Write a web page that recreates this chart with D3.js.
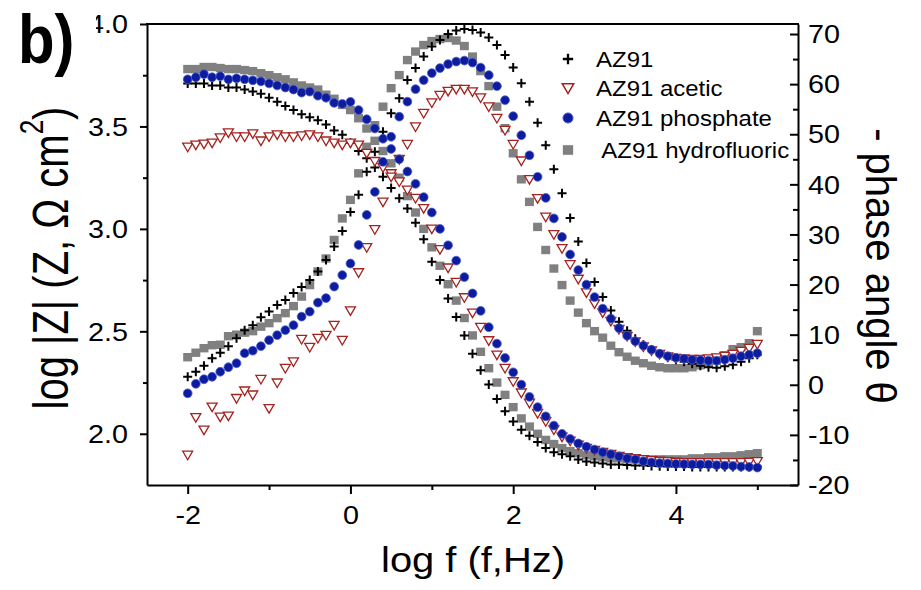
<!DOCTYPE html>
<html>
<head>
<meta charset="utf-8">
<script src="https://cdn.jsdelivr.net/npm/d3@7"></script>
<style>
  body { margin: 0; background: #fff; }
  svg { display: block; font-family: "Liberation Sans", Arial, sans-serif; }
</style>
</head>
<body>
<svg id="chart" width="921" height="590"></svg>
<script>
// ============= Data =============
// log frequency (10 points per decade)
const logF = [
  -2.0,-1.9,-1.8,-1.7,-1.6,-1.5,-1.4,-1.3,-1.2,-1.1,
  -1.0,-0.9,-0.8,-0.7,-0.6,-0.5,-0.4,-0.3,-0.2,-0.1,
   0.0, 0.1, 0.2, 0.3, 0.4, 0.5, 0.6, 0.7, 0.8, 0.9,
   1.0, 1.1, 1.2, 1.3, 1.4, 1.5, 1.6, 1.7, 1.8, 1.9,
   2.0, 2.1, 2.2, 2.3, 2.4, 2.5, 2.6, 2.7, 2.8, 2.9,
   3.0, 3.1, 3.2, 3.3, 3.4, 3.5, 3.6, 3.7, 3.8, 3.9,
   4.0, 4.1, 4.2, 4.3, 4.4, 4.5, 4.6, 4.7, 4.8, 4.9,
   5.0
];

// log |Z| values
const az91Z = [
  3.71,3.71,3.71,3.70,3.70,3.69,3.69,3.68,3.67,3.66,
  3.64,3.62,3.60,3.58,3.56,3.545,3.53,3.51,3.48,3.46,
  3.42,3.38,3.345,3.30,3.255,3.20,3.15,3.10,3.03,2.95,
  2.84,2.75,2.66,2.57,2.48,2.39,2.31,2.24,2.17,2.11,
  2.06,2.02,1.99,1.96,1.93,1.91,1.90,1.89,1.875,1.865,
  1.86,1.855,1.85,1.85,1.848,1.845,1.845,1.843,1.842,1.84,
  1.84,1.84,1.838,1.838,1.838,1.838,1.838,1.838,1.838,1.838,
  1.84
];
const aceticZ = [
  3.40,3.41,3.415,3.42,3.445,3.47,3.45,3.45,3.465,3.43,
  3.45,3.46,3.45,3.45,3.455,3.46,3.45,3.43,3.42,3.41,
  3.42,3.41,3.37,3.33,3.30,3.27,3.23,3.19,3.15,3.10,
  3.00,2.90,2.81,2.74,2.665,2.59,2.52,2.455,2.385,2.32,
  2.255,2.20,2.15,2.10,2.06,2.02,1.985,1.965,1.945,1.93,
  1.92,1.91,1.90,1.89,1.885,1.88,1.875,1.87,1.867,1.865,
  1.862,1.86,1.86,1.86,1.86,1.86,1.86,1.86,1.86,1.862,
  1.865
];
const phosphateZ = [
  3.73,3.74,3.755,3.74,3.745,3.73,3.735,3.73,3.725,3.72,
  3.71,3.70,3.69,3.68,3.665,3.67,3.65,3.64,3.615,3.61,
  3.62,3.58,3.535,3.49,3.44,3.39,3.34,3.28,3.22,3.155,
  3.08,3.00,2.92,2.845,2.765,2.685,2.60,2.52,2.44,2.37,
  2.30,2.24,2.18,2.13,2.085,2.04,2.00,1.975,1.953,1.937,
  1.923,1.91,1.90,1.89,1.88,1.875,1.866,1.86,1.857,1.855,
  1.853,1.852,1.851,1.85,1.85,1.847,1.845,1.843,1.84,1.838,
  1.835
];
const hfZ = [
  3.78,3.78,3.79,3.79,3.785,3.78,3.78,3.775,3.77,3.76,
  3.75,3.74,3.73,3.715,3.70,3.69,3.68,3.655,3.635,3.605,
  3.58,3.54,3.49,3.43,3.38,3.32,3.25,3.16,3.08,3.00,
  2.91,2.82,2.73,2.65,2.565,2.48,2.40,2.32,2.25,2.19,
  2.13,2.075,2.035,2.00,1.97,1.95,1.93,1.915,1.905,1.895,
  1.89,1.885,1.88,1.88,1.875,1.875,1.875,1.875,1.875,1.875,
  1.875,1.875,1.88,1.88,1.885,1.885,1.89,1.89,1.895,1.90,
  1.905
];

// - phase angle values (deg)
const az91Phase = [
  1.6,2.6,3.8,5.3,6.4,7.7,9.3,10.9,11.9,13.5,
  14.6,15.9,16.9,18.3,19.5,20.9,22.6,24.9,27.6,30.7,
  34.5,37.9,42.5,46.5,50.5,54.2,57.2,60.8,63.2,65.5,
  67.5,68.8,70.0,70.7,71.0,70.8,70.3,69.3,67.8,65.8,
  63.3,60.2,56.5,52.3,47.8,43.0,38.2,33.3,28.6,24.3,
  20.5,17.5,14.8,12.6,10.8,9.2,8.0,7.0,6.2,5.5,
  5.0,4.6,4.2,3.8,3.5,3.4,3.7,4.0,4.6,5.3,
  6.0
];
const aceticPhase = [
  -14.0,-6.5,-9.0,-4.4,-6.4,-6.2,-2.7,-1.2,-2.0,1.1,
  -4.7,0.4,3.3,4.6,9.1,7.5,9.3,9.9,11.9,8.9,
  14.8,22.4,27.4,31.0,36.5,41.5,45.0,48.0,51.5,54.2,
  56.3,57.8,58.6,59.0,59.0,58.5,57.3,55.5,53.2,50.8,
  48.0,44.7,41.0,37.2,33.5,30.0,27.2,24.0,21.1,18.4,
  16.2,14.4,12.7,11.1,9.7,8.6,7.6,6.8,6.1,5.6,
  5.3,5.2,5.1,5.1,5.2,5.4,5.7,6.1,6.7,7.3,
  8.1
];
const phosphatePhase = [
  -1.7,0.2,1.1,1.6,2.6,3.5,4.3,6.3,6.8,7.7,
  8.9,9.9,10.9,11.9,13.6,14.6,16.4,17.3,19.6,21.9,
  24.2,27.9,33.9,38.5,44.5,49.5,53.5,56.5,59.0,60.8,
  62.2,63.2,64.0,64.5,64.7,64.3,63.3,61.8,59.6,56.8,
  53.6,49.8,45.8,41.5,37.3,33.2,29.5,26.0,22.9,20.0,
  17.5,15.2,13.2,11.3,9.8,8.7,7.8,7.0,6.2,5.7,
  5.4,5.2,5.0,4.9,4.8,4.8,5.0,5.3,5.7,6.0,
  6.3
];
const hfPhase = [
  5.5,6.4,7.3,7.9,8.0,9.7,10.0,10.4,10.7,11.6,
  12.3,13.3,14.3,15.7,17.6,19.9,22.6,25.2,28.9,33.2,
  36.9,42.2,47.5,51.8,55.5,59.2,61.8,64.8,66.5,67.8,
  68.6,69.0,69.2,68.7,67.6,65.5,62.6,59.6,55.5,51.2,
  46.2,41.0,36.5,31.5,26.9,23.2,19.9,16.8,14.4,12.3,
  10.7,9.4,7.8,6.5,5.6,4.8,4.3,3.8,3.5,3.3,
  3.3,3.3,3.5,3.9,4.4,4.8,5.9,7.1,7.5,8.3,
  10.7
];

// Axis ticks
const xMajor = [-2, 0, 2, 4];
const xMinor = [-1, 1, 3, 5];
const zMajor = [2.0, 2.5, 3.0, 3.5, 4.0];
const zMinor = [2.25, 2.75, 3.25, 3.75];
const pMajor = [-20, -10, 0, 10, 20, 30, 40, 50, 60, 70];
const pMinor = [-15, -5, 5, 15, 25, 35, 45, 55, 65];

// ============= Setup =============
const svg = d3.select('#chart');
const plotLeft = 147, plotRight = 798, plotTop = 24, plotBottom = 485;
const sx = 1.15; // the original text is a bit wide

const x = d3.scaleLinear().domain([-2.5, 5.5]).range([plotLeft, plotRight]);
const yZ = d3.scaleLinear().domain([1.75, 4.0]).range([plotBottom, plotTop]);
const yP = d3.scaleLinear().domain([-20, 72]).range([plotBottom, plotTop]);

svg.append('rect').attr('width', 921).attr('height', 590).attr('fill', '#fff');

// marker shapes
const shapes = {
  plus: 'M-4.5,0H4.5M0,-4.5V4.5',
  tri: 'M-5,-3.8L5,-3.8L0,4.8Z',
  circle: d3.symbol(d3.symbolCircle, Math.PI * 4.4 * 4.4)(),
  square: 'M-4.5,-4.2H4.5V4.2H-4.5Z'
};
function styleMarker(sel, shape){
  if(shape === 'plus') sel.attr('fill', 'none').attr('stroke', '#000').attr('stroke-width', 2);
  else if(shape === 'tri') sel.attr('fill', '#fff').attr('stroke', '#a3231f').attr('stroke-width', 1.3);
  else if(shape === 'circle') sel.attr('fill', '#0d1c9f').attr('stroke', '#4d5fcf').attr('stroke-width', 0.8);
  else sel.attr('fill', '#808080');
}

// draw order: hydrofluoric under, phosphate on top
const series = [
  {label: ' AZ91 hydrofluoric', shape: 'square', z: hfZ, phase: hfPhase},
  {label: 'AZ91', shape: 'plus', z: az91Z, phase: az91Phase},
  {label: 'AZ91 acetic', shape: 'tri', z: aceticZ, phase: aceticPhase},
  {label: 'AZ91 phosphate', shape: 'circle', z: phosphateZ, phase: phosphatePhase}
];

const plot = svg.append('g').attr('class', 'plot');
series.forEach(s =>{
  const g = plot.append('g');
  [[s.z, yZ], [s.phase, yP]].forEach(([vals, y]) =>{
    const pts = logF.map((f, i) => ({f: f, v: vals[i]}));
    g.append('g').selectAll('path')
      .data(pts)
      .join('path')
      .attr('d', shapes[s.shape])
      .attr('transform', d => 'translate(' + x(d.f) + ',' + y(d.v) + ')')
      .call(styleMarker, s.shape);
  });
});

// ============= Axes =============
function styleAxis(g){
  g.selectAll('path, line').attr('stroke', '#000').attr('stroke-width', 2);
  g.selectAll('text').attr('fill', '#000').attr('font-size', 25);
  g.attr('font-family', null).attr('font-size', null);
}
const plain = d => String(d);

// bottom
const xAxis = svg.append('g').attr('transform', 'translate(0,' + plotBottom + ')')
  .call(d3.axisBottom(x).tickValues(xMajor).tickSize(9).tickSizeOuter(0).tickFormat(plain))
  .call(styleAxis);
xAxis.selectAll('text').attr('y', 39).attr('dy', null).attr('transform', 'scale(' + sx + ',1)');
svg.append('g').attr('transform', 'translate(0,' + plotBottom + ')')
  .call(d3.axisBottom(x).tickValues(xMinor).tickSize(5).tickFormat(''))
  .call(styleAxis)
  .select('.domain').remove();

// left
const zAxis = svg.append('g').attr('transform', 'translate(' + plotLeft + ',0)')
  .call(d3.axisLeft(yZ).tickValues(zMajor).tickSize(7).tickSizeOuter(0).tickFormat(d3.format('.1f')))
  .call(styleAxis);
zAxis.selectAll('text').attr('x', -19 / sx).attr('dy', '0.35em').attr('transform', 'scale(' + sx + ',1)');
svg.append('g').attr('transform', 'translate(' + plotLeft + ',0)')
  .call(d3.axisLeft(yZ).tickValues(zMinor).tickSize(4).tickFormat(''))
  .call(styleAxis)
  .select('.domain').remove();

// right (ticks point inward)
const pAxis = svg.append('g').attr('transform', 'translate(' + plotRight + ',0)')
  .call(d3.axisRight(yP).tickValues(pMajor).tickSize(-8).tickSizeOuter(0).tickPadding(10).tickFormat(plain))
  .call(styleAxis);
pAxis.selectAll('text').attr('x', 10 / sx).attr('dy', '0.35em').attr('transform', 'scale(' + sx + ',1)');
svg.append('g').attr('transform', 'translate(' + plotRight + ',0)')
  .call(d3.axisRight(yP).tickValues(pMinor).tickSize(-5).tickFormat(''))
  .call(styleAxis)
  .select('.domain').remove();

// top frame line
svg.append('line')
  .attr('x1', plotLeft - 1).attr('x2', plotRight + 1)
  .attr('y1', plotTop).attr('y2', plotTop)
  .attr('stroke', '#000').attr('stroke-width', 2);

// ============= Titles =============
svg.append('text')
  .attr('transform', 'translate(473,572) scale(1.14,1)')
  .attr('text-anchor', 'middle')
  .attr('font-size', 35)
  .text('log f (f,Hz)');

const zTitle = svg.append('text')
  .attr('transform', 'translate(68,258) scale(1.25,1) rotate(-90)')
  .attr('text-anchor', 'middle')
  .attr('font-size', 40);
zTitle.append('tspan').text('log |Z| (Z, \u03A9 cm');
zTitle.append('tspan').attr('dy', -20).attr('font-size', 26).text('2');
zTitle.append('tspan').attr('dy', 20).text(')');

svg.append('text')
  .attr('transform', 'translate(866,266) scale(1.08,1) rotate(90)')
  .attr('text-anchor', 'middle')
  .attr('font-size', 40)
  .text('- phase angle \u03B8');

// ============= Legend =============
const legendRows = [
  {s: series[1], y: 59},
  {s: series[2], y: 88},
  {s: series[3], y: 118},
  {s: series[0], y: 150}
];
const legend = svg.append('g').attr('class', 'legend');
legendRows.forEach(r =>{
  legend.append('path')
    .attr('d', shapes[r.s.shape])
    .attr('transform', 'translate(568,' + r.y + ') scale(1.15)')
    .call(styleMarker, r.s.shape);
  legend.append('text')
    .attr('transform', 'translate(596,' + r.y + ') scale(1.09,1)')
    .attr('dy', '0.35em')
    .attr('font-size', 22)
    .style('white-space', 'pre')
    .text(r.s.label);
});

// ============= Panel label =============
svg.append('rect').attr('x', 0).attr('y', 0).attr('width', 96).attr('height', 66).attr('fill', '#fff');
svg.append('text')
  .attr('transform', 'translate(18,63) scale(0.88,1)')
  .attr('font-size', 68)
  .attr('font-weight', 'bold')
  .text('b)');
</script>
</body>
</html>
